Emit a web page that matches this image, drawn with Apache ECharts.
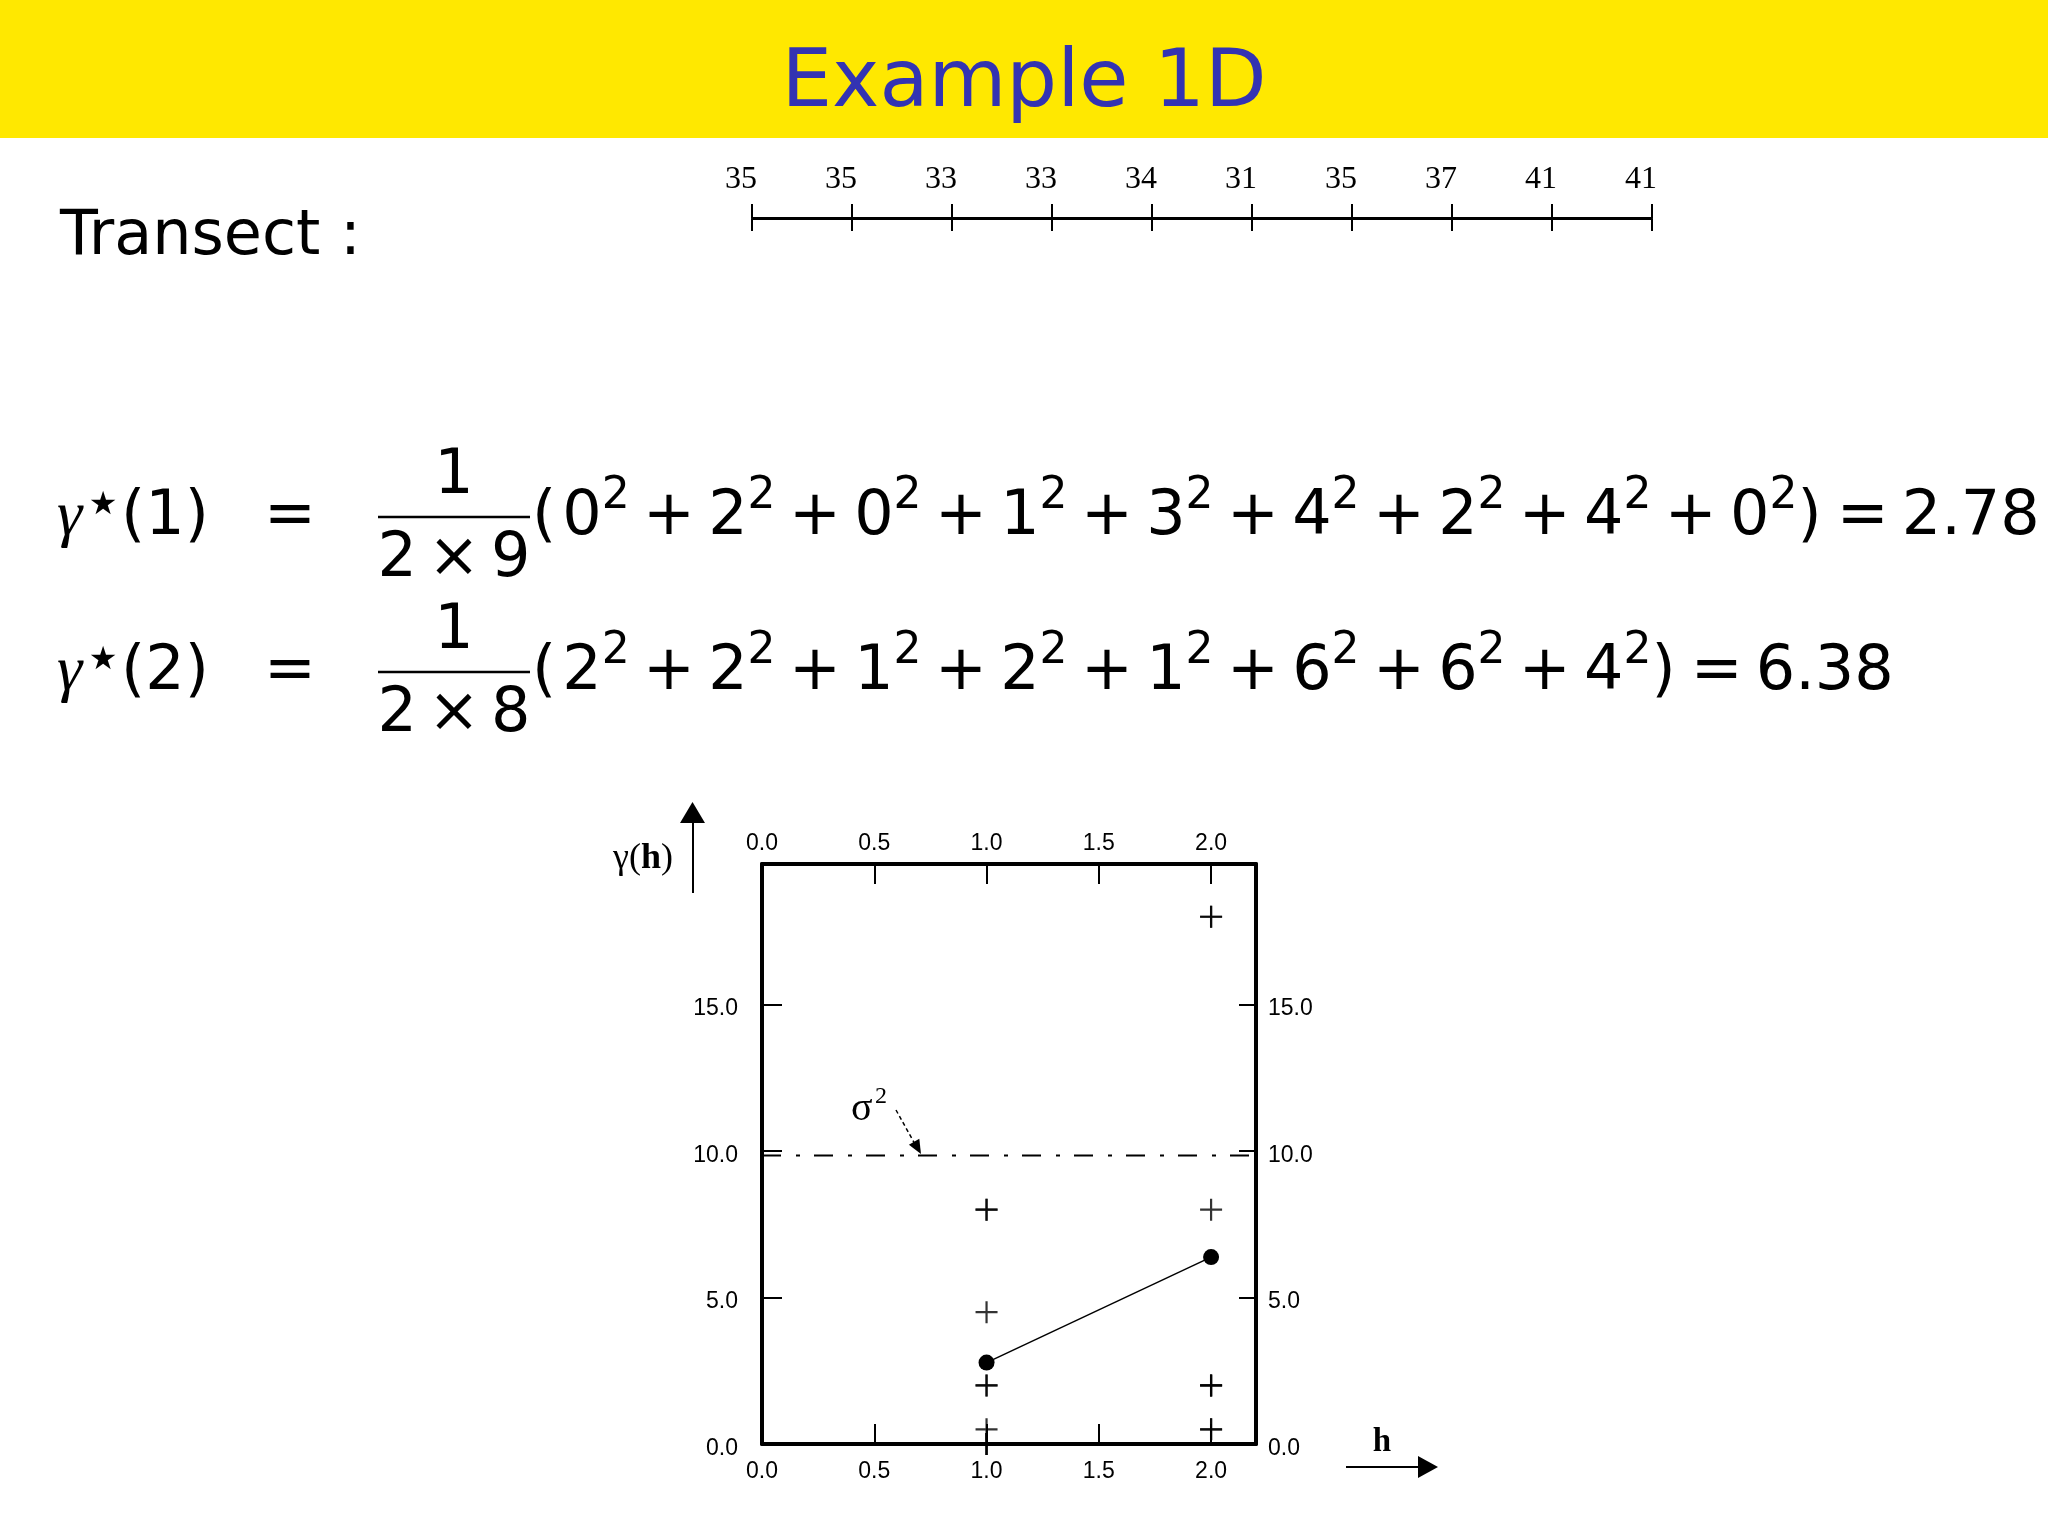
<!DOCTYPE html>
<html>
<head>
<meta charset="utf-8">
<title>Example 1D</title>
<script src="https://cdn.jsdelivr.net/npm/echarts@6.0.0/dist/echarts.min.js"></script>
<style>
  html, body { margin: 0; padding: 0; background: #fff; }
  #chart { width: 2048px; height: 1536px; }
</style>
</head>
<body>
<div id="chart"></div>
<script>
// transect readings, left to right
const transectValues = [35, 35, 33, 33, 34, 31, 35, 37, 41, 41];

// differences used in the two estimator lines
const lag1Diffs = [0, 2, 0, 1, 3, 4, 2, 4, 0];
const lag2Diffs = [2, 2, 1, 2, 1, 6, 6, 4];
const lagResults = ['2.78', '6.38'];

// variogram cloud (crosses)
const cloudLag1 = [0, 2, 0, 0.5, 4.5, 8, 2, 8, 0];
const cloudLag2 = [2, 2, 0.5, 2, 0.5, 18, 18, 8];

// experimental variogram (filled dots)
const lags = [1, 2];
const gammaValues = [2.78, 6.38];

// sill (sample variance)
const sill = 9.85;

// axis ranges / ticks
const xMin = 0, xMax = 2.2, xStep = 0.5;
const yMin = 0, yMax = 19.8, yStep = 5;

const SANS = 'DejaVu Sans';
const SERIF = 'Liberation Serif';
const AXF = 'Liberation Sans';

const chart = echarts.init(document.getElementById('chart'), null, { renderer: 'canvas' });

function isStep(v, step) {
  const r = v / step;
  return Math.abs(r - Math.round(r)) < 1e-6;
}

function text(x, y, str, size, extra) {
  const st = Object.assign({
    text: str, x: x, y: y, fontSize: size, fontFamily: SANS, fill: '#000',
    align: 'left', verticalAlign: 'middle'
  }, extra || {});
  st.textAlign = st.align;
  st.textVerticalAlign = st.verticalAlign;
  return { type: 'text', z: 10, style: st };
}

// measure glyph runs so the formula pieces can be laid out one after another
const measureCtx = document.createElement('canvas').getContext('2d');
function textWidth(str, size) {
  measureCtx.font = size + 'px "' + SANS + '"';
  return measureCtx.measureText(str).width;
}

const MAIN = 62, SUP = 44;
const SUP_RAISE = 20.5;

// tokens: [string, isSup, padLeft, padRight]
function sumTokens(diffs, result) {
  const t = [['(', false, 0, 6]];
  diffs.forEach((d, i) => {
    if (i) t.push(['+', false, 13.3, 13.3]);
    t.push([String(d), false, 0, 0], ['2', true, 0, 0]);
  });
  t.push([')', false, 0, 0], ['=', false, 15, 13], [result, false, 0, 0]);
  return t;
}

function layoutTokens(x0, mid, tokens, out) {
  let x = x0;
  tokens.forEach(([s, sup, pl, pr]) => {
    const size = sup ? SUP : MAIN;
    x += pl;
    out.push(text(x, sup ? mid - SUP_RAISE : mid, s, size));
    x += textWidth(s, size) + pr;
  });
}

const graphics = [
  { type: 'rect', z: 0, shape: { x: 0, y: 0, width: 2048, height: 138 }, style: { fill: '#FFE800' } },
  text(1024, 85, 'Example 1D', 80, { fill: '#3333B2', align: 'center' }),
  text(60, 238, 'Transect :', 62)
];

// the two estimator lines
[lag1Diffs, lag2Diffs].forEach((diffs, k) => {
  const dy = k * 155;
  const mid = 517.5 + dy;
  graphics.push(
    text(57, mid, 'γ', 64, { fontFamily: SERIF, fontStyle: 'italic' }),
    text(103, mid - 12, '★', 32, { align: 'center' }),
    text(121, mid, '(' + lags[k] + ')', MAIN),
    text(290, mid, '=', MAIN, { align: 'center' }),
    text(454, 476.5 + dy, '1', MAIN, { align: 'center' }),
    { type: 'line', z: 10, shape: { x1: 378, y1: 517 + dy, x2: 530, y2: 517 + dy }, style: { stroke: '#000', lineWidth: 2.5 } },
    text(454, 559.5 + dy, '{n|2}{x|×}{n|' + diffs.length + '}', MAIN, {
      align: 'center',
      rich: {
        n: { fontSize: MAIN, fontFamily: SANS },
        x: { fontSize: MAIN, fontFamily: SANS, padding: [0, 11] }
      }
    })
  );
  layoutTokens(532, mid, sumTokens(diffs, lagResults[k]), graphics);
});

// plot annotations
graphics.push(
  text(643, 859, '{g|γ}{g|(}{h|h}{g|)}', 36, {
    align: 'center',
    rich: {
      g: { fontSize: 36, fontFamily: SERIF },
      h: { fontSize: 36, fontFamily: SERIF, fontWeight: 'bold' }
    }
  }),
  { type: 'line', z: 10, shape: { x1: 693, y1: 893, x2: 693, y2: 820 }, style: { stroke: '#000', lineWidth: 2 } },
  { type: 'polygon', z: 10, shape: { points: [[680, 823], [705, 823], [692.5, 802]] }, style: { fill: '#000' } },
  text(1382, 1442, 'h', 33, { fontFamily: SERIF, fontWeight: 'bold', align: 'center' }),
  { type: 'line', z: 10, shape: { x1: 1346, y1: 1467, x2: 1420, y2: 1467 }, style: { stroke: '#000', lineWidth: 2 } },
  { type: 'polygon', z: 10, shape: { points: [[1418, 1456], [1418, 1478], [1438, 1467]] }, style: { fill: '#000' } },
  text(851, 1109, 'σ', 40, { fontFamily: SERIF }),
  text(875, 1097, '2', 24, { fontFamily: SERIF }),
  { type: 'line', z: 10, shape: { x1: 896, y1: 1110, x2: 916, y2: 1146 }, style: { stroke: '#000', lineWidth: 1.5, lineDash: [4, 3] } },
  { type: 'polygon', z: 10, shape: { points: [[921, 1154], [908.9, 1144.8], [919.3, 1138.8]] }, style: { fill: '#000' } }
);

const black = '#000';
const crossPath = 'path://M9,0H11V9H20V11H11V20H9V11H0V9H9Z';

function transectAxis(position, tickLen, withLabels) {
  return {
    type: 'value', gridIndex: 0, position: position, min: 0, max: transectValues.length - 1, interval: 1,
    axisLine: { show: true, onZero: false, lineStyle: { color: black, width: 2 } },
    axisTick: { show: true, inside: false, length: tickLen, lineStyle: { color: black, width: 2 } },
    axisLabel: withLabels ? {
      show: true, margin: 22, color: black, fontFamily: SERIF, fontSize: 32, padding: [0, 22, 0, 0],
      formatter: (v) => String(transectValues[Math.round(v)])
    } : { show: false },
    splitLine: { show: false }
  };
}

function plotX(position, margin) {
  return {
    type: 'value', gridIndex: 1, position: position, min: xMin, max: xMax, interval: xStep,
    axisLine: { show: true, onZero: false, lineStyle: { color: black, width: 4 } },
    axisTick: { show: true, inside: true, length: 20, lineStyle: { color: black, width: 2 } },
    axisLabel: {
      show: true, margin: margin, color: black, fontFamily: AXF, fontSize: 23,
      formatter: (v) => isStep(v, xStep) ? v.toFixed(1) : ''
    },
    splitLine: { show: false }
  };
}

function plotY(position, margin, tickLen) {
  return {
    type: 'value', gridIndex: 1, position: position, min: yMin, max: yMax, interval: yStep,
    axisLine: { show: true, onZero: false, lineStyle: { color: black, width: 4 } },
    axisTick: { show: true, inside: true, length: tickLen, lineStyle: { color: black, width: 2 } },
    axisLabel: {
      show: true, margin: margin, color: black,
      formatter: (v) => isStep(v, yStep) ? '{v|' + v.toFixed(1) + '}' : '',
      rich: { v: { fontFamily: AXF, fontSize: 23, color: black, lineHeight: 32, verticalAlign: 'bottom' } }
    },
    splitLine: { show: false }
  };
}

chart.setOption({
  animation: false,
  backgroundColor: '#fff',
  grid: [
    { left: 752, top: 218, width: 900, height: 1 },
    { left: 762, top: 864, width: 494, height: 580 }
  ],
  xAxis: [
    transectAxis('bottom', 12, false),
    transectAxis('top', 14, true),
    plotX('bottom', 16),
    plotX('top', 9)
  ],
  yAxis: [
    { type: 'value', gridIndex: 0, show: false, min: 0, max: 1 },
    plotY('left', 24, 20),
    plotY('right', 12, 17)
  ],
  graphic: { elements: graphics },
  series: [
    {
      name: 'sill', type: 'line', xAxisIndex: 2, yAxisIndex: 1, showSymbol: false, symbol: 'none',
      data: [[xMin, sill], [xMax, sill]],
      lineStyle: { color: black, width: 2, type: [19, 15, 4, 14] }, z: 3
    },
    {
      name: 'cloud h=1', type: 'scatter', xAxisIndex: 2, yAxisIndex: 1, clip: false,
      symbol: crossPath, symbolSize: 22, itemStyle: { color: black },
      data: cloudLag1.map((v) => [lags[0], v]), z: 4
    },
    {
      name: 'cloud h=2', type: 'scatter', xAxisIndex: 2, yAxisIndex: 1, clip: false,
      symbol: crossPath, symbolSize: 22, itemStyle: { color: black },
      data: cloudLag2.map((v) => [lags[1], v]), z: 4
    },
    {
      name: 'gamma', type: 'line', xAxisIndex: 2, yAxisIndex: 1,
      symbol: 'circle', symbolSize: 16, itemStyle: { color: black },
      lineStyle: { color: black, width: 1.5 },
      data: lags.map((h, i) => [h, gammaValues[i]]), z: 5
    }
  ]
});
</script>
</body>
</html>
